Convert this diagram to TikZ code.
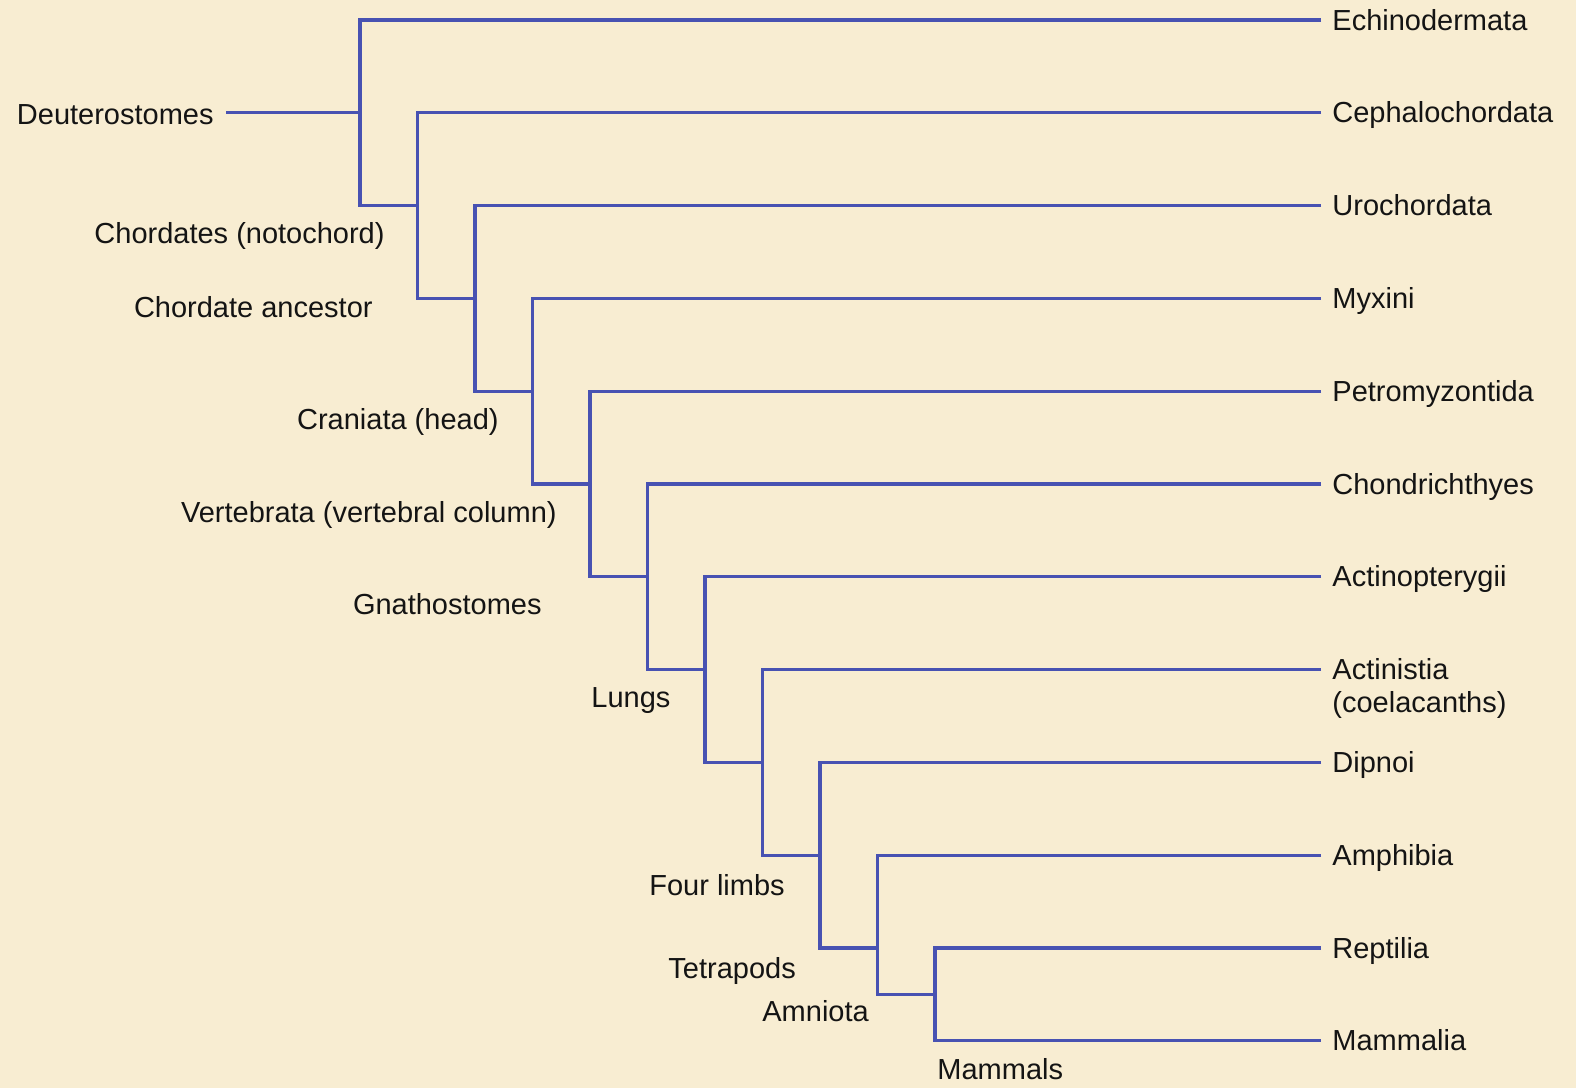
\documentclass[tikz,border=0pt]{standalone}
\usepackage{fontspec}
\setmainfont{Liberation Sans}
\definecolor{bgcol}{RGB}{248,237,210}
\definecolor{treeblue}{RGB}{72,82,178}
\definecolor{txtcol}{RGB}{20,20,20}
\begin{document}
\begin{tikzpicture}[x=0.5pt,y=-0.5pt,
  branch/.style={draw=treeblue, line width=1.6pt, line join=miter},
  lbl/.style={inner sep=0pt, font=\fontsize{14.5}{17.4}\selectfont, text=txtcol}]
\fill[bgcol] (0,0) rectangle (1576,1088);
\useasboundingbox (0,0) rectangle (1576,1088);
% leaf y positions and node x positions
\def\ya{20}\def\yb{112.8}\def\yc{205.6}\def\yd{298.4}\def\ye{391.2}\def\yf{484}
\def\yg{576.8}\def\yh{669.6}\def\yi{762.4}\def\yj{855.2}\def\yk{948}\def\yl{1040.8}
\def\ym{994.4}
\def\xa{360}\def\xb{417.5}\def\xc{475}\def\xd{532.5}\def\xe{590}\def\xf{647.5}
\def\xg{705}\def\xh{762.5}\def\xi{820}\def\xj{877.5}\def\xk{935}
\def\xend{1321}
% leaf ends
\coordinate (E0) at (\xend,\ya);
\coordinate (E1) at (\xend,\yb);
\coordinate (E2) at (\xend,\yc);
\coordinate (E3) at (\xend,\yd);
\coordinate (E4) at (\xend,\ye);
\coordinate (E5) at (\xend,\yf);
\coordinate (E6) at (\xend,\yg);
\coordinate (E7) at (\xend,\yh);
\coordinate (E8) at (\xend,\yi);
\coordinate (E9) at (\xend,\yj);
\coordinate (E10) at (\xend,\yk);
\coordinate (E11) at (\xend,\yl);
% top corners of each clade
\coordinate (J0) at (\xa,\ya);
\coordinate (J1) at (\xb,\yb);
\coordinate (J2) at (\xc,\yc);
\coordinate (J3) at (\xd,\yd);
\coordinate (J4) at (\xe,\ye);
\coordinate (J5) at (\xf,\yf);
\coordinate (J6) at (\xg,\yg);
\coordinate (J7) at (\xh,\yh);
\coordinate (J8) at (\xi,\yi);
\coordinate (J9) at (\xj,\yj);
\coordinate (J10) at (\xk,\yk);
% bottom corners
\coordinate (B0) at (\xa,\yc);
\coordinate (B1) at (\xb,\yd);
\coordinate (B2) at (\xc,\ye);
\coordinate (B3) at (\xd,\yf);
\coordinate (B4) at (\xe,\yg);
\coordinate (B5) at (\xf,\yh);
\coordinate (B6) at (\xg,\yi);
\coordinate (B7) at (\xh,\yj);
\coordinate (B8) at (\xi,\yk);
\coordinate (B9) at (\xj,\ym);
\coordinate (B10) at (\xk,\yl);
% attachment points on child verticals
\coordinate (C1) at (\xb,\yc);
\coordinate (C2) at (\xc,\yd);
\coordinate (C3) at (\xd,\ye);
\coordinate (C4) at (\xe,\yf);
\coordinate (C5) at (\xf,\yg);
\coordinate (C6) at (\xg,\yh);
\coordinate (C7) at (\xh,\yi);
\coordinate (C8) at (\xi,\yj);
\coordinate (C9) at (\xj,\yk);
\coordinate (C10) at (\xk,\ym);
% root stem
\coordinate (R) at (226,\yb);
\coordinate (P0) at (\xa,\yb);
% branches
\draw[branch] (R) -- (P0);
\draw[branch] (E0) -- (J0) -- (B0) -- (C1);
\draw[branch] (E1) -- (J1) -- (B1) -- (C2);
\draw[branch] (E2) -- (J2) -- (B2) -- (C3);
\draw[branch] (E3) -- (J3) -- (B3) -- (C4);
\draw[branch] (E4) -- (J4) -- (B4) -- (C5);
\draw[branch] (E5) -- (J5) -- (B5) -- (C6);
\draw[branch] (E6) -- (J6) -- (B6) -- (C7);
\draw[branch] (E7) -- (J7) -- (B7) -- (C8);
\draw[branch] (E8) -- (J8) -- (B8) -- (C9);
\draw[branch] (E9) -- (J9) -- (B9) -- (C10);
\draw[branch] (E10) -- (J10) -- (B10) -- (E11);
% leaf labels
\node[lbl, anchor=base west] (t0) at (1332,\ya+10) {Echinodermata};
\node[lbl, anchor=base west] (t1) at (1332,\yb+10) {Cephalochordata};
\node[lbl, anchor=base west] (t2) at (1332,\yc+10) {Urochordata};
\node[lbl, anchor=base west] (t3) at (1332,\yd+10) {Myxini};
\node[lbl, anchor=base west] (t4) at (1332,\ye+10) {Petromyzontida};
\node[lbl, anchor=base west] (t5) at (1332,\yf+10) {Chondrichthyes};
\node[lbl, anchor=base west] (t6) at (1332,\yg+10) {Actinopterygii};
\node[lbl, anchor=base west] (t7) at (1332,\yh+10) {Actinistia};
\node[lbl, anchor=base west] (t7b) at (1332,\yh+43) {(coelacanths)};
\node[lbl, anchor=base west] (t8) at (1332,\yi+10) {Dipnoi};
\node[lbl, anchor=base west] (t9) at (1332,\yj+10) {Amphibia};
\node[lbl, anchor=base west] (t10) at (1332,\yk+10) {Reptilia};
\node[lbl, anchor=base west] (t11) at (1332,\yl+10) {Mammalia};
% clade labels
\node[lbl, anchor=base east] (d0) at (214,124) {Deuterostomes};
\node[lbl, anchor=base east] (d1) at (385,243) {Chordates (notochord)};
\node[lbl, anchor=base east] (d2) at (373,317) {Chordate ancestor};
\node[lbl, anchor=base east] (d3) at (499,429) {Craniata (head)};
\node[lbl, anchor=base east] (d4) at (557,522) {Vertebrata (vertebral column)};
\node[lbl, anchor=base east] (d5) at (542,614) {Gnathostomes};
\node[lbl, anchor=base west] (d6) at (591,707) {Lungs};
\node[lbl, anchor=base west] (d7) at (649,895) {Four limbs};
\node[lbl, anchor=base west] (d8) at (668,978) {Tetrapods};
\node[lbl, anchor=base west] (d9) at (762,1021) {Amniota};
\node[lbl, anchor=base west] (d10) at (937,1079) {Mammals};
\end{tikzpicture}
\end{document}
